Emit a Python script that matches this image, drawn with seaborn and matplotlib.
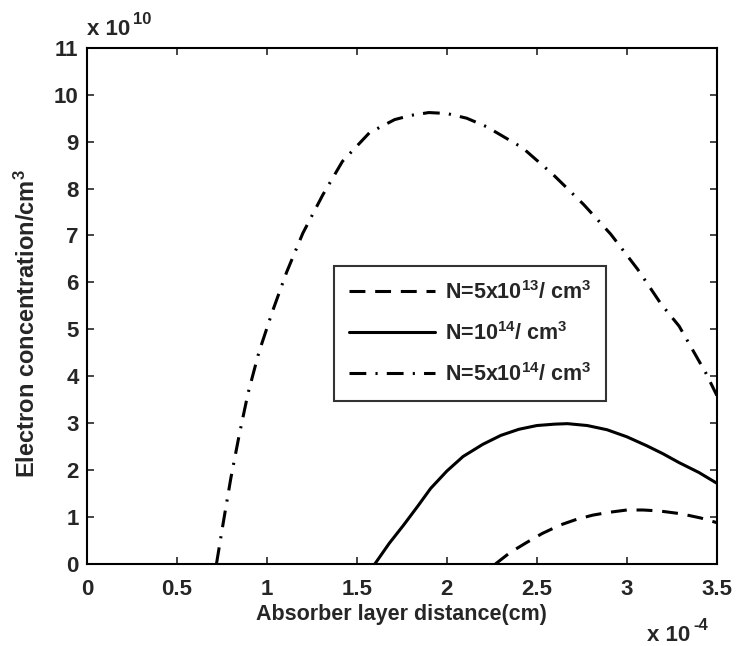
import matplotlib
matplotlib.use("Agg")
from matplotlib import pyplot as plt
import pandas as pd
import numpy as np
import seaborn as sns

# values: x in units of 1e-4 cm, y in units of 1e10 /cm^3
x_low = [2.27, 2.35, 2.44, 2.53, 2.63, 2.72, 2.81, 2.90, 3.00, 3.09, 3.18, 3.30, 3.41, 3.50]
n_low = [0.00, 0.24, 0.45, 0.65, 0.83, 0.95, 1.04, 1.10, 1.15, 1.15, 1.13, 1.07, 0.98, 0.88]

x_mid = [1.60, 1.68, 1.76, 1.84, 1.91, 2.00, 2.09, 2.20, 2.30, 2.40, 2.50, 2.60, 2.67,
         2.78, 2.89, 3.00, 3.11, 3.20, 3.29, 3.40, 3.50]
n_mid = [0.00, 0.44, 0.83, 1.24, 1.61, 1.98, 2.29, 2.55, 2.74, 2.87, 2.95, 2.98, 2.99,
         2.95, 2.86, 2.71, 2.52, 2.35, 2.16, 1.95, 1.72]

x_high = [0.72, 0.76, 0.80, 0.845, 0.895, 0.955, 1.03, 1.11, 1.20, 1.31, 1.42, 1.57, 1.71,
          1.80, 1.90, 2.00, 2.11, 2.22, 2.42, 2.59, 2.76, 2.91, 3.06, 3.19, 3.29, 3.44, 3.50]
n_high = [0.00, 0.93, 1.83, 2.72, 3.63, 4.50, 5.37, 6.22, 7.05, 7.86, 8.58, 9.19, 9.47,
          9.56, 9.62, 9.60, 9.50, 9.32, 8.87, 8.30, 7.66, 7.03, 6.28, 5.54, 5.07, 4.06, 3.59]

labels = ["N=5x10$^{13}$/ cm$^3$", "N=10$^{14}$/ cm$^3$", "N=5x10$^{14}$/ cm$^3$"]
xticks = [0, 0.5, 1, 1.5, 2, 2.5, 3, 3.5]
xticklabels = ["0", "0.5", "1", "1.5", "2", "2.5", "3", "3.5"]
yticks = list(range(0, 12))

fam = 'Liberation Sans'
sns.set_style("ticks")
plt.rcParams['font.family'] = [fam, 'DejaVu Sans']
plt.rcParams['font.weight'] = 'bold'
plt.rcParams['mathtext.fontset'] = 'custom'
plt.rcParams['mathtext.rm'] = fam + ':bold'
plt.rcParams['mathtext.it'] = fam + ':bold'
plt.rcParams['mathtext.bf'] = fam + ':bold'
plt.rcParams['mathtext.default'] = 'rm'

fig = plt.figure(figsize=(7.36, 6.46), dpi=100)
ax = fig.add_axes([0.118, 0.127, 0.856, 0.799])

lw = 2.2
sns.lineplot(x=x_low, y=n_low, ax=ax, color='k', lw=lw, label=labels[0],
             linestyle=(0, (5.2, 3.2)), sort=False)
sns.lineplot(x=x_mid, y=n_mid, ax=ax, color='k', lw=lw, label=labels[1], sort=False)
sns.lineplot(x=x_high, y=n_high, ax=ax, color='k', lw=lw, label=labels[2],
             linestyle=(0, (5.5, 3.0, 0.7, 3.0)), sort=False)

ax.set_xlim(0, 3.5)
ax.set_ylim(0, 11)
ax.set_xticks(xticks)
ax.set_xticklabels(xticklabels)
ax.set_yticks(yticks)
ax.tick_params(direction='in', length=5, width=1.2, top=True, right=True, labelsize=16)
ax.tick_params(axis='x', pad=11)
ax.tick_params(axis='y', pad=6)
for lab in ax.get_xticklabels() + ax.get_yticklabels():
    lab.set_fontweight('bold')
for s in ax.spines.values():
    s.set_linewidth(1.5)
    s.set_color('k')

ax.set_xlabel("Absorber layer distance(cm)", fontsize=15.5, fontweight='bold', labelpad=3)
ax.set_ylabel("Electron concentration/cm$^3$", fontsize=17, fontweight='bold', labelpad=8)
ax.yaxis.set_label_coords(-0.074, 0.465)

# MATLAB-like exponent labels
t1 = fig.text(87 / 736, 1 - 35 / 646, "x 10", ha='left', va='baseline',
              fontsize=16, fontweight='bold')
ax.annotate("10", xy=(1, 1), xycoords=t1, xytext=(2, -6), textcoords='offset points',
            ha='left', va='bottom', fontsize=12, fontweight='bold')
t2 = fig.text(647 / 736, 1 - 641 / 646, "x 10", ha='left', va='baseline',
              fontsize=16, fontweight='bold')
ax.annotate("-4", xy=(1, 1), xycoords=t2, xytext=(2, -6), textcoords='offset points',
            ha='left', va='bottom', fontsize=12, fontweight='bold', annotation_clip=False)

leg = ax.legend(loc='upper left', bbox_to_anchor=(0.392, 0.578), frameon=True,
                fancybox=False, edgecolor='k', fontsize=15.5, handlelength=4.0,
                handletextpad=0.45, labelspacing=0.85, borderpad=0.7,
                borderaxespad=0)
leg.get_frame().set_linewidth(1.5)
for t in leg.get_texts():
    t.set_fontweight('bold')

fig.savefig("out.png", dpi=100)
